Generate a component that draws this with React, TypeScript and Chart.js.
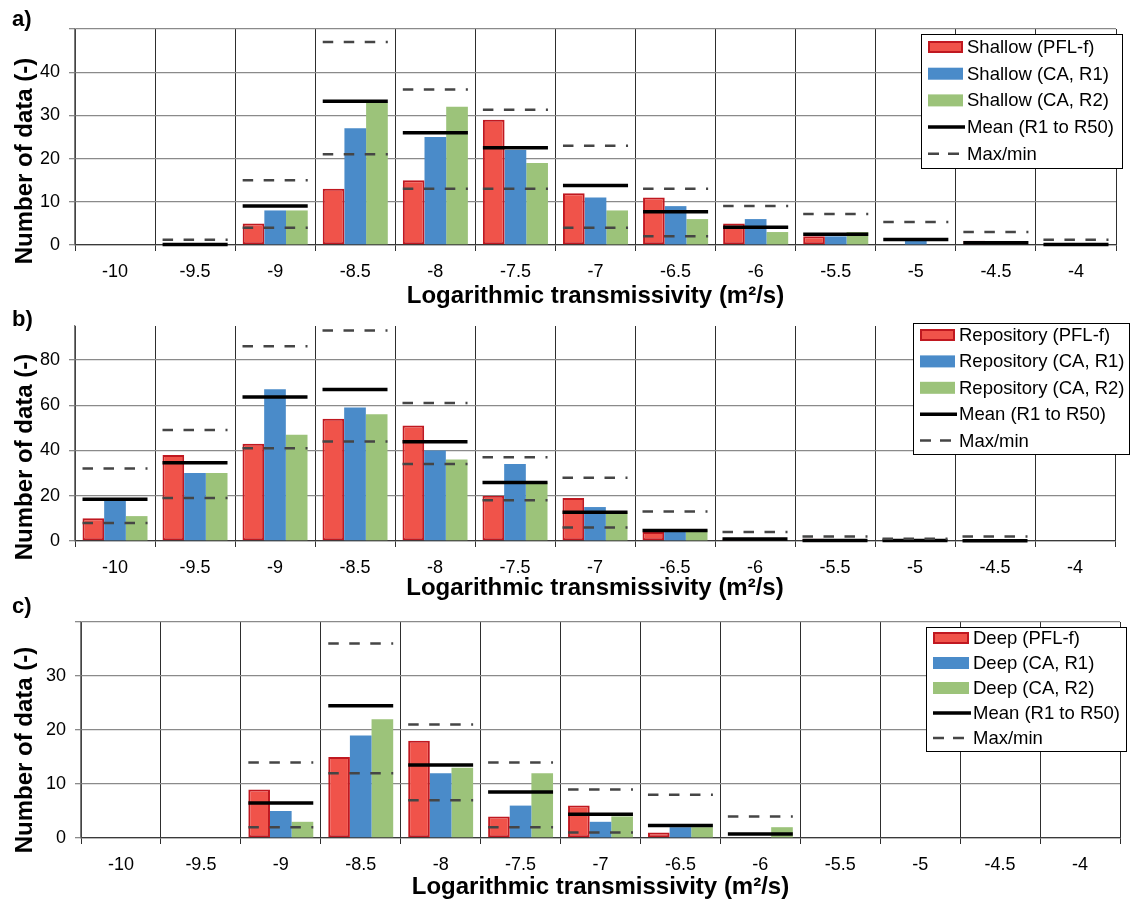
import React, { useEffect, useRef } from 'react';
import { Chart, registerables } from 'chart.js';

Chart.register(...registerables);
Chart.defaults.font.family = '"Liberation Sans", Arial, sans-serif';
Chart.defaults.color = '#000';

// ---------- data ----------
const categories = ['-10', '-9.5', '-9', '-8.5', '-8', '-7.5', '-7', '-6.5', '-6', '-5.5', '-5', '-4.5', '-4'];

// a) Shallow
const shallowPFL = [0, 0, 5, 13, 15, 29, 12, 11, 5, 2, 0, 1, 0];
const shallowR1 = [0, 0, 8, 27, 25, 22, 11, 9, 6, 2, 1, 0, 0];
const shallowR2 = [0, 0, 8, 33, 32, 19, 8, 6, 3, 3, 0, 0, 0];
const shallowMean = [null, 0.1, 9, 33.3, 26, 22.5, 13.8, 7.7, 4.1, 2.5, 1.3, 0.5, 0.1];
const shallowMax = [null, 1.2, 15, 47, 36, 31.3, 23, 13, 9, 7.2, 5.3, 3, 1.2];
const shallowMin = [null, null, 4, 21, 13, 13, 4, 2, null, null, null, null, null];

// b) Repository
const repoPFL = [10, 38, 43, 54, 51, 20, 19, 4, 1, 1, 0, 0, 0];
const repoR1 = [18, 30, 67, 59, 40, 34, 15, 5, 0, 0, 0, 0, 0];
const repoR2 = [11, 30, 47, 56, 36, 26, 13, 5, 0, 0, 0, 0, 0];
const repoMean = [18.5, 34.6, 63.6, 66.9, 43.9, 25.9, 12.7, 4.6, 0.9, 0.2, 0.2, 0.1, null];
const repoMax = [32, 49, 86, 93, 61, 37, 28, 13, 4, 2, 1, 2, null];
const repoMin = [8, 19, 41, 44, 34, 18, 6, null, null, null, null, null, null];

// c) Deep
const deepPFL = [0, 0, 9, 15, 18, 4, 6, 1, 0, 0, 0, 0, 0];
const deepR1 = [0, 0, 5, 19, 12, 6, 3, 2, 0, 0, 0, 0, 0];
const deepR2 = [0, 0, 3, 22, 13, 12, 4, 2, 2, 0, 0, 0, 0];
const deepMean = [null, null, 6.5, 24.5, 13.5, 8.5, 4.4, 2.3, 0.75, null, null, null, null];
const deepMax = [null, null, 14, 36, 21, 14, 9, 8, 4, null, null, null, null];
const deepMin = [null, null, 2, 12, 7, 2, 1, null, null, null, null, null, null];

const xTitle = 'Logarithmic transmissivity (m²/s)';
const yTitle = 'Number of data (-)';

// ---------- styles ----------
const RED = '#F0534A';
const RED_BORDER = '#C01820';
const BLUE = '#4A8BC9';
const GREEN = '#9CC37A';
const CAT_PCT = 0.8125;
const FONT = '"Liberation Sans", Arial, sans-serif';

type Panel = {
  name: string;
  label: string;
  pfl: number[];
  r1: number[];
  r2: number[];
  mean: (number | null)[];
  max: (number | null)[];
  min: (number | null)[];
  top: number;
  height: number;
  padTop: number;
  padRight: number;
  yW: number;
  xH: number;
  titlePb: number;
  yMax: number;
  step: number;
  includeBounds: boolean;
  yTitleDy: number;
  labelBaseline: number;
  legend: { x: number; y: number; w: number; h: number; first: number; gap: number; swX: number; swW: number; textX: number };
};

const panels: Panel[] = [
  {
    name: 'Shallow', label: 'a)', pfl: shallowPFL, r1: shallowR1, r2: shallowR2, mean: shallowMean, max: shallowMax, min: shallowMin,
    top: 0, height: 310, padTop: 29, padRight: 16, yW: 75, xH: 65, titlePb: 2, yMax: 50, step: 10, includeBounds: true,
    yTitleDy: 24, labelBaseline: 25.5,
    legend: { x: 921, y: 34, w: 201, h: 134, first: 13, gap: 26.7, swX: 928, swW: 35, textX: 967 },
  },
  {
    name: 'Repository', label: 'b)', pfl: repoPFL, r1: repoR1, r2: repoR2, mean: repoMean, max: repoMax, min: repoMin,
    top: 300, height: 305, padTop: 26, padRight: 17, yW: 75, xH: 64, titlePb: 5, yMax: 95, step: 20, includeBounds: false,
    yTitleDy: 23.5, labelBaseline: 25.5,
    legend: { x: 913, y: 23, w: 216, h: 131, first: 12, gap: 26.4, swX: 920, swW: 35, textX: 959 },
  },
  {
    name: 'Deep', label: 'c)', pfl: deepPFL, r1: deepR1, r2: deepR2, mean: deepMean, max: deepMax, min: deepMin,
    top: 596, height: 305, padTop: 26, padRight: 12, yW: 81, xH: 63, titlePb: 2, yMax: 40, step: 10, includeBounds: true,
    yTitleDy: 20, labelBaseline: 16.5,
    legend: { x: 926, y: 31, w: 200, h: 124, first: 11, gap: 25, swX: 933, swW: 36, textX: 973 },
  },
];

function PanelChart({ p }: { p: Panel }) {
  const ref = useRef<HTMLCanvasElement | null>(null);

  useEffect(() => {
    if (!ref.current) return;

    const segPlugin = {
      id: 'segs',
      afterDatasetsDraw(chart: any) {
        const ctx = chart.ctx;
        const xs = chart.scales.x;
        const cw = (xs.right - xs.left) / chart.data.labels.length;
        const half = (cw * CAT_PCT) / 2;
        chart.data.datasets.forEach((ds: any, i: number) => {
          if (!ds.isSeg) return;
          const meta = chart.getDatasetMeta(i);
          ctx.save();
          ctx.strokeStyle = ds.borderColor;
          ctx.lineWidth = ds.segWidth;
          ctx.setLineDash(ds.segDash || []);
          ctx.lineCap = 'butt';
          meta.data.forEach((pt: any, j: number) => {
            const v = ds.data[j];
            if (v === null || v === undefined) return;
            ctx.beginPath();
            ctx.moveTo(pt.x - half, pt.y);
            ctx.lineTo(pt.x + half, pt.y);
            ctx.stroke();
          });
          ctx.restore();
        });
      },
    };

    const decoPlugin = {
      id: 'deco',
      afterDraw(chart: any) {
        const ctx = chart.ctx;
        const ca = chart.chartArea;
        ctx.save();
        // panel label
        ctx.fillStyle = '#000';
        ctx.font = `bold 22px ${FONT}`;
        ctx.textAlign = 'left';
        ctx.textBaseline = 'alphabetic';
        ctx.fillText(p.label, 12, p.labelBaseline);
        // y title
        ctx.save();
        ctx.translate(25, (ca.top + ca.bottom) / 2 + p.yTitleDy);
        ctx.rotate(-Math.PI / 2);
        ctx.font = `bold 24px ${FONT}`;
        ctx.textAlign = 'center';
        ctx.textBaseline = 'middle';
        ctx.fillText(yTitle, 0, 0);
        ctx.restore();
        // legend
        const L = p.legend;
        ctx.fillStyle = '#fff';
        ctx.fillRect(L.x, L.y, L.w, L.h);
        ctx.strokeStyle = '#000';
        ctx.lineWidth = 1;
        ctx.strokeRect(L.x + 0.5, L.y + 0.5, L.w, L.h);
        const items = chart.data.datasets.filter((ds: any) => !ds.noLegend);
        items.forEach((ds: any, k: number) => {
          const cy = L.y + L.first + k * L.gap;
          if (ds.isSeg) {
            ctx.save();
            ctx.strokeStyle = ds.borderColor;
            ctx.lineWidth = ds.segWidth;
            ctx.setLineDash(ds.segDash ? [11, 9] : []);
            ctx.beginPath();
            ctx.moveTo(L.swX, cy);
            ctx.lineTo(L.swX + L.swW + 2, cy);
            ctx.stroke();
            ctx.restore();
          } else {
            ctx.fillStyle = ds.backgroundColor;
            ctx.fillRect(L.swX, cy - 6, L.swW, 12);
            if (ds.borderWidth > 0) {
              ctx.strokeStyle = ds.borderColor;
              ctx.lineWidth = 2;
              ctx.strokeRect(L.swX + 1, cy - 5, L.swW - 2, 10);
            }
          }
          ctx.fillStyle = '#000';
          ctx.font = `18.5px ${FONT}`;
          ctx.textAlign = 'left';
          ctx.textBaseline = 'middle';
          ctx.fillText(ds.label, L.textX, cy + 1);
        });
        ctx.restore();
      },
    };

    const barDs = (label: string, data: number[], bg: string, border: string, bw: number) => ({
      type: 'bar' as const,
      label,
      data,
      backgroundColor: bg,
      borderColor: border,
      borderWidth: bw,
      borderSkipped: false,
      categoryPercentage: CAT_PCT,
      barPercentage: 1,
      order: 2,
    });
    const segDs = (label: string, data: (number | null)[], color: string, width: number, dash: number[] | null, noLegend = false) => ({
      type: 'line' as const,
      label,
      data,
      isSeg: true,
      noLegend,
      segWidth: width,
      segDash: dash,
      borderColor: color,
      backgroundColor: color,
      showLine: false,
      pointRadius: 0,
      pointHoverRadius: 0,
      pointHitRadius: 0,
      order: 1,
    });

    const chart = new Chart(ref.current, {
      type: 'bar',
      data: {
        labels: categories,
        datasets: [
          barDs(`${p.name} (PFL-f)`, p.pfl, RED, RED_BORDER, 2),
          barDs(`${p.name} (CA, R1)`, p.r1, BLUE, BLUE, 0),
          barDs(`${p.name} (CA, R2)`, p.r2, GREEN, GREEN, 0),
          segDs('Mean (R1 to R50)', p.mean, '#000000', 3.5, null),
          segDs('Max/min', p.max, '#454545', 2.5, [10.5, 10.5]),
          segDs('Min', p.min, '#454545', 2.5, [10.5, 10.5], true),
        ] as any,
      },
      options: {
        responsive: false,
        animation: false,
        devicePixelRatio: 1,
        events: [],
        layout: { padding: { top: p.padTop, right: p.padRight, left: 0, bottom: 0 } },
        plugins: { legend: { display: false }, tooltip: { enabled: false }, title: { display: false } },
        scales: {
          x: {
            offset: true,
            ticks: { color: '#000', font: { size: 18 }, padding: 10, maxRotation: 0, autoSkip: false },
            grid: { color: '#2e2e2e', lineWidth: 1, tickLength: 6, offset: true, drawTicks: true },
            border: { display: true, color: '#3a3a3a', width: 1.3 },
            title: {
              display: true,
              text: xTitle,
              color: '#000',
              font: { size: 24, weight: 'bold', lineHeight: 1 },
              padding: { top: 0, bottom: p.titlePb },
            },
            afterFit: (s: any) => {
              s.height = p.xH;
            },
          },
          y: {
            min: 0,
            max: p.yMax,
            ticks: {
              stepSize: p.step,
              includeBounds: p.includeBounds,
              color: '#000',
              font: { size: 18 },
              padding: 9,
              callback: (v: any) => (Number(v) === p.yMax ? '' : String(v)),
            },
            grid: { color: '#8a8a8a', lineWidth: 1.3, tickLength: 6, drawTicks: true },
            border: { display: true, color: '#7a7a7a', width: 1.3 },
            afterFit: (s: any) => {
              s.width = p.yW;
            },
          },
        },
      } as any,
      plugins: [segPlugin, decoPlugin],
    });

    return () => chart.destroy();
  }, [p]);

  return (
    <canvas
      ref={ref}
      width={1132}
      height={p.height}
      style={{ position: 'absolute', left: 0, top: p.top, width: 1132, height: p.height }}
    />
  );
}

export default function App() {
  return (
    <div style={{ position: 'absolute', left: 0, top: 0, width: 1132, height: 901, background: '#fff', overflow: 'hidden' }}>
      {panels.map((p) => (
        <PanelChart key={p.label} p={p} />
      ))}
    </div>
  );
}
